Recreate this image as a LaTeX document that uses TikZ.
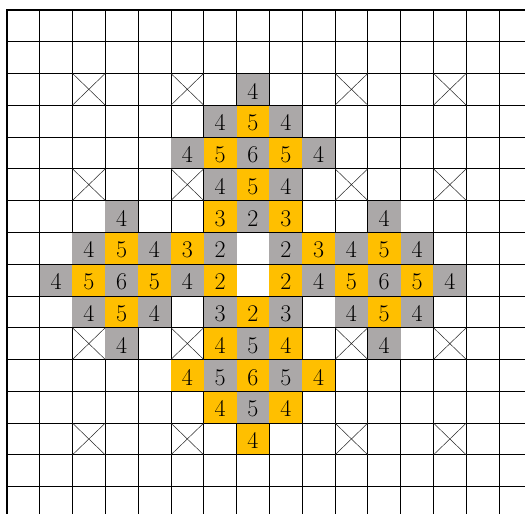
\documentclass[tikz,border=0pt]{standalone}
\definecolor{cgray}{RGB}{171,168,168}
\definecolor{cyellow}{RGB}{255,191,0}
\begin{document}
\begin{tikzpicture}[
  gridline/.style={line width=0.8pt, black},
  borderline/.style={line width=2pt, black},
  cross/.style={line width=0.5pt, black!85},
  cellbox/.style={minimum width=32.82pt, minimum height=31.79pt, inner sep=0pt, outer sep=0pt,
    text height=19.5pt, text depth=0pt, font=\fontsize{24}{28}\selectfont},
  gcell/.style={cellbox, fill=cgray},
  ycell/.style={cellbox, fill=cyellow}]
\useasboundingbox (0,0) rectangle (525pt,-514pt);
\clip (0,0) rectangle (525pt,-514pt);
\begin{scope}[shift={(6.8pt,-9.8pt)}, x=32.82pt, y=-31.79pt]
  \foreach \i in {0,...,16} \draw[gridline] (\i,0) -- (\i,16);
  \foreach \c/\r/\n in {7/2/4, 6/3/4, 8/3/4, 5/4/4, 7/4/6, 9/4/4, 6/5/4, 8/5/4,
      3/6/4, 7/6/2, 11/6/4,
      2/7/4, 4/7/4, 6/7/2, 8/7/2, 10/7/4, 12/7/4,
      1/8/4, 3/8/6, 5/8/4, 9/8/4, 11/8/6, 13/8/4,
      2/9/4, 4/9/4, 6/9/3, 8/9/3, 10/9/4, 12/9/4,
      3/10/4, 7/10/5, 11/10/4, 6/11/5, 8/11/5, 7/12/5}
    \node[gcell] (g\c-\r) at (\c+0.5,\r+0.5) {\n};
  \foreach \c/\r/\n in {7/3/5, 6/4/5, 8/4/5, 7/5/5, 6/6/3, 8/6/3,
      3/7/5, 5/7/3, 9/7/3, 11/7/5,
      2/8/5, 4/8/5, 6/8/2, 8/8/2, 10/8/5, 12/8/5,
      3/9/5, 7/9/2, 11/9/5,
      6/10/4, 8/10/4, 5/11/4, 7/11/6, 9/11/4, 6/12/4, 8/12/4, 7/13/4}
    \node[ycell] (y\c-\r) at (\c+0.5,\r+0.5) {\n};
  \foreach \j in {1,...,16} \draw[gridline] (0,\j) -- (16,\j);
  \draw[borderline] (0,16) -- (0,0) -- (16,0);
  \foreach \r in {2,5,10,13}
    \foreach \c in {2,5,10,13}
      \draw[cross] (\c,\r) -- ++(1,1) (\c+1,\r) -- ++(-1,1);
\end{scope}
\end{tikzpicture}
\end{document}
